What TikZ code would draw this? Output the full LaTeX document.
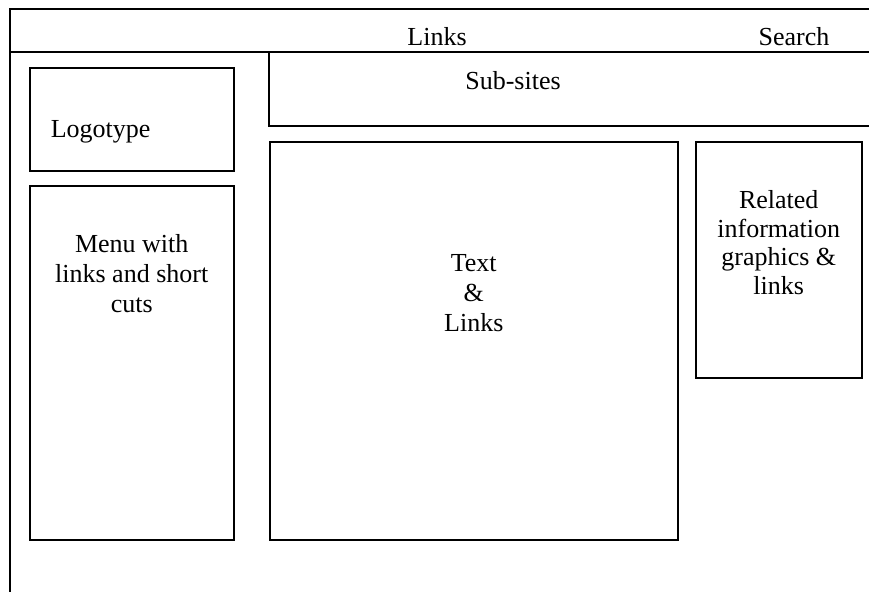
\documentclass[tikz,border=0pt]{standalone}
\usepackage{fontspec}
\setmainfont{Liberation Serif}
\usetikzlibrary{positioning}
\tikzset{
        x=1pt, y=-1pt, % one unit is one pixel of the layout, y runs down
        every path/.style={line width=1.5pt}, % frame lines and boxes
        every node/.style={font=\fontsize{26}{30}\selectfont, inner sep=0pt},
    }
\tikzstyle{panel}=[draw,rectangle,anchor=north west]
\tikzstyle{caption}=[align=center,anchor=north]

\begin{document}
\begin{tikzpicture}
    \useasboundingbox (0,0) rectangle (869,592);
    % page frame and header band
    \draw (869,9) -- (10,9) -- (10,592);
    \draw (10,52) -- (869,52);
    \draw (269,52) -- (269,126) -- (869,126);
    \node[anchor=base] (links) at (437,45) {Links};
    \node[anchor=base] (search) at (794,45) {Search};
    \node[anchor=base] (subsites) at (513,89) {Sub-sites};
    % left column
    \node[panel, minimum width=204pt, minimum height=103pt] (logo) at (29,67) {};
    \node[anchor=base west] (logotext) at (50,137) {Logotype};
    \node[panel, minimum width=204pt, minimum height=354pt] (menu) at (29,185) {};
    \node[caption, below=49pt of menu.north] (menutext) {Menu with\\links and short\\cuts};
    % main content
    \node[panel, minimum width=408pt, minimum height=398pt] (content) at (269,141) {};
    \node[caption, below=113pt of content.north] (contenttext) {Text\\\&\\Links};
    % right column
    \node[panel, minimum width=166pt, minimum height=236pt] (related) at (695,141) {};
    \node[caption, below=49pt of related.north, font=\fontsize{26}{28.5}\selectfont] (relatedtext)
        {Related\\information\\graphics \&\\links};
\end{tikzpicture}
\end{document}
